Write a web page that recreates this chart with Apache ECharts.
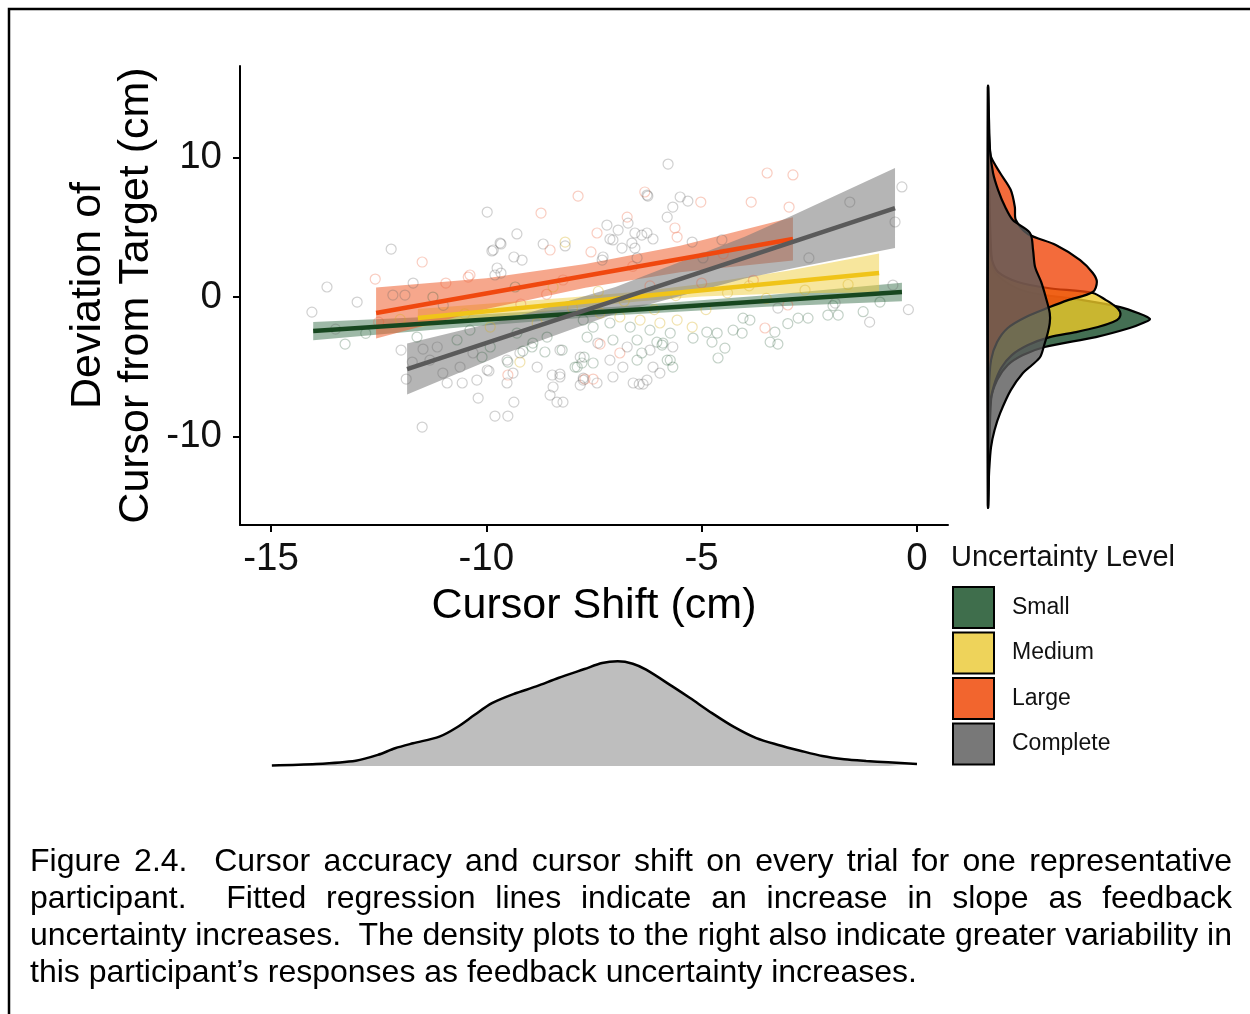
<!DOCTYPE html>
<html>
<head>
<meta charset="utf-8">
<script src="https://cdn.jsdelivr.net/npm/echarts@6/dist/echarts.min.js"></script>
<style>
html,body{margin:0;padding:0;background:#fff}
#chart{width:1250px;height:1014px}
</style>
</head>
<body>
<div id="chart"></div>
<script>
// ---------- data ----------
const groups = ['Small', 'Medium', 'Large', 'Complete'];
const xTicks = [-15, -10, -5, 0];
const yTicks = [-10, 0, 10];

// trials: [cursor shift (cm), deviation of cursor from target (cm)]
const smallPts = [
  [-9.50,-4.66],[-7.89,-5.02],[-7.73,-4.30],[-8.24,-3.80],[-8.94,-3.58],[-8.64,-3.94],[-9.15,-3.87],[-10.10,-4.30],[-11.24,0.00],[-9.33,0.72],
  [-2.76,-1.51],[-2.53,-1.51],[-2.07,-1.29],[-1.83,-1.29],[-3.30,-2.51],[-3.41,-3.23],[-3.23,-3.37],[-4.04,-1.51],[-3.88,-1.65],[-4.27,-2.37],
  [-4.06,-2.58],[-4.46,-3.66],[-4.62,-4.37],[-4.76,-3.23],[-4.64,-2.58],[-4.88,-2.51],[-5.20,-2.94],[-5.73,-4.52],[-5.67,-5.02],[-6.04,-3.23],
  [-5.92,-3.44],[-6.39,-4.01],[-7.78,-4.73],[-7.94,-5.02],[-7.75,-1.65],[-7.52,-2.15],[-7.13,-1.86],[-6.66,-2.15],[-6.20,-2.37],[-5.73,-2.58],
  [-7.66,-2.87],[-7.06,-3.08],[-6.50,-3.08],[-5.90,-3.30],[-7.52,-4.73],[-6.50,-4.52],[-5.80,-4.52],[-10.38,-2.37],[-9.29,-2.58],[-8.59,-2.87],
  [-9.91,-3.58],[-8.92,-3.30],[-11.61,-2.87],[-10.68,-3.08],[-1.95,-0.62],[-0.86,-0.36],[-1.25,-1.05],[-13.28,-3.37],[-12.80,-2.60],[-3.00,-1.90]
];
const mediumPts = [
  [-8.17,3.94],[-9.22,-4.66],[-5.22,-2.15],[-7.36,-1.15],[-6.90,-1.43],[-5.97,-1.86],[-6.43,-1.65],[-5.57,-1.65],[-8.82,-1.86],[-9.91,-2.15],
  [-8.45,0.72],[-5.60,0.10],[-4.40,0.30],[-6.80,-0.30],[-3.50,-0.10],[-10.50,-1.20],[-8.00,-0.80],[-7.40,0.40],[-2.60,0.50],[-12.00,-1.60],
  [-4.90,-0.90],[-3.90,0.80],[-1.60,0.90],[-6.10,-0.90]
];
const largePts = [
  [-7.87,7.24],[-8.73,6.02],[-8.52,3.37],[-11.49,2.51],[-12.58,1.29],[-9.50,-5.59],[-10.38,1.58],[-10.94,1.00],[-3.48,8.89],[-2.88,8.75],
  [-3.85,6.81],[-2.97,6.45],[-5.02,6.81],[-6.32,7.53],[-6.73,5.73],[-7.43,4.59],[-5.62,4.95],[-5.57,4.30],[-7.57,3.23],[-3.00,-0.57],
  [-3.53,-2.22],[-7.52,-5.88],[-7.71,-5.88],[-6.90,-4.01],[-7.36,-3.37],[-8.22,1.22],[-6.20,0.80],[-5.00,1.00],[-3.80,1.20],[-9.20,-0.50],
  [-8.60,0.20],[-12.50,-1.80],[-10.42,1.43],[-4.50,3.10],[-6.60,2.20]
];
const completePts = [
  [-9.98,6.09],[-9.29,4.52],[-9.87,3.30],[-9.66,3.80],[-8.68,3.80],[-8.17,3.66],[-12.21,3.44],[-9.36,2.87],[-9.17,2.65],[-13.70,0.72],
  [-13.00,-0.36],[-14.05,-1.08],[-11.98,-3.80],[-11.72,-4.66],[-11.86,-5.88],[-11.47,-3.73],[-11.01,-5.45],[-10.56,-6.16],[-10.19,-7.24],[-9.94,-5.30],
  [-9.36,-7.53],[-9.80,-8.53],[-9.50,-8.53],[-11.49,-9.32],[-8.52,-7.03],[-8.36,-7.53],[-8.47,-5.59],[-8.29,-5.52],[-7.82,-6.31],[-7.75,-5.81],
  [-11.70,1.00],[-11.89,0.14],[-12.17,0.14],[-9.80,1.58],[-9.66,1.72],[-5.78,9.53],[-0.35,7.89],[-1.56,6.81],[-0.51,5.38],[-5.32,6.88],
  [-5.50,7.17],[-5.67,6.45],[-6.25,7.24],[-5.80,5.73],[-6.71,5.30],[-7.20,5.16],[-6.94,4.80],[-6.55,4.59],[-6.39,4.44],[-6.27,4.59],
  [-6.13,4.16],[-7.13,4.16],[-7.06,4.09],[-6.85,3.51],[-6.62,3.87],[-6.55,3.51],[-7.29,2.87],[-7.31,2.65],[-5.22,3.94],[-4.97,2.80],
  [-4.53,4.09],[-6.50,2.80],[-2.51,2.80],[-0.56,0.86],[-1.90,-0.43],[-3.23,-0.79],[-6.45,-6.24],[-6.36,-6.24],[-8.22,-7.53],[-6.27,7.31],
  [-9.68,3.87],[-9.84,3.37],[-9.75,2.08],[-6.20,-3.80],[-5.67,-3.58],[-7.41,-3.30],[-6.73,-3.58],[-7.82,-4.30],[-7.13,-4.52],[-6.83,-5.02],
  [-6.13,-5.02],[-7.75,-5.95],[-7.43,-6.16],[-7.06,-5.73],[-6.59,-6.16],[-6.27,-5.95],[-5.97,-5.45],[-11.14,-3.58],[-10.31,-4.01],[-9.52,-4.52],
  [-9.22,-4.01],[-8.29,-3.80],[-11.31,-4.52],[-10.61,-5.02],[-9.98,-5.23],[-9.38,-5.45],[-8.82,-5.02],[-8.29,-5.73],[-10.91,-6.16],[-10.22,-5.95],
  [-9.52,-6.16],[-8.45,-6.45],[-13.50,-2.30],[-11.00,-0.60],[-0.20,-0.90],[-1.10,-1.80]
];

// fitted regression lines: [[x start, y start], [x end, y end]]
const smallFit    = [[-14.02,-2.44],[-0.35,0.36]];
const mediumFit   = [[-11.59,-1.50],[-0.88,1.72]];
const largeFit    = [[-12.56,-1.15],[-2.88,4.16]];
const completeFit = [[-11.84,-5.16],[-0.51,6.38]];

// 95% confidence bands: [x, lower, upper]
const smallBand = [[-14.02,-3.09,-1.79],[-10.5,-2.14,-1.30],[-7.0,-1.30,-0.70],[-3.5,-0.70,0.13],[-0.35,-0.30,1.02]];
const mediumBand = [[-11.59,-2.15,-0.85],[-8.0,-0.82,-0.02],[-6.5,-0.32,0.38],[-5.0,0.03,0.93],[-3.0,0.28,1.88],[-0.88,0.32,3.12]];
const largeBand = [[-12.56,-2.98,0.68],[-10.0,-0.85,1.35],[-7.7,0.67,2.37],[-5.5,1.77,3.67],[-2.88,2.61,5.71]];
const completeBand = [[-11.84,-6.99,-3.33],[-9.5,-3.98,-1.58],[-7.0,-1.18,0.72],[-4.0,1.32,4.32],[-2.88,2.07,5.87],[-0.51,3.51,9.25]];

// marginal densities of deviation: [density, deviation (cm)]
const smallDens = [[0,14.98],[0.008,2.29],[0.030,1.22],[0.079,0.36],[0.187,-0.22],[0.261,-0.72],[0.296,-1.15],[0.320,-1.58],[0.306,-1.86],
  [0.280,-2.22],[0.213,-2.87],[0.112,-3.58],[0.069,-4.16],[0.039,-4.87],[0.018,-5.95],[0.006,-7.38],[0,-14.91]];
const mediumDens = [[0,14.98],[0.002,4.09],[0.008,2.65],[0.020,1.79],[0.059,1.08],[0.118,0.65],[0.207,0.29],[0.233,-0.22],[0.251,-0.65],
  [0.261,-1.08],[0.259,-1.51],[0.247,-1.79],[0.217,-2.15],[0.174,-2.51],[0.122,-2.87],[0.079,-3.44],[0.047,-4.16],[0.026,-5.09],
  [0.012,-6.31],[0.004,-7.74],[0,-14.91]];
const largeDens = [[0,14.98],[0.001,12.69],[0.003,10.90],[0.006,10.04],[0.024,8.89],[0.045,7.67],[0.053,6.45],[0.055,5.52],[0.079,4.52],
  [0.134,3.73],[0.182,2.65],[0.207,1.72],[0.215,1.08],[0.207,0.36],[0.158,-0.22],[0.122,-0.72],[0.075,-1.43],[0.039,-2.22],[0.018,-3.23],
  [0.006,-4.52],[0.002,-6.67],[0,-14.91]];
const completeDens = [[0,14.98],[0.002,12.69],[0.004,10.54],[0.010,8.89],[0.020,7.67],[0.034,6.45],[0.049,5.52],[0.083,4.59],[0.089,3.37],
  [0.093,2.15],[0.105,1.08],[0.114,0.00],[0.122,-1.15],[0.122,-1.86],[0.118,-2.58],[0.111,-3.44],[0.103,-4.30],[0.087,-4.87],[0.069,-5.45],
  [0.045,-6.67],[0.024,-8.32],[0.013,-9.53],[0.006,-10.75],[0.0024,-12.40],[0.001,-13.84],[0,-14.91]];

// marginal density of cursor shift: [cursor shift (cm), density]
const shiftDens = [[-14.98,0.0005],[-13.95,0.0018],[-13.03,0.0048],[-12.52,0.0100],[-12.12,0.0160],[-11.70,0.0205],[-11.09,0.0265],[-10.68,0.0350],
  [-10.27,0.0462],[-9.87,0.0567],[-9.35,0.0652],[-8.84,0.0718],[-8.33,0.0794],[-7.72,0.0875],[-7.31,0.0929],[-6.95,0.0944],[-6.60,0.0923],
  [-6.29,0.0869],[-5.68,0.0718],[-5.27,0.0613],[-4.76,0.0477],[-4.24,0.0350],[-3.73,0.0251],[-3.22,0.0190],[-2.71,0.0138],[-2.20,0.0090],
  [-1.69,0.0061],[-1.18,0.0045],[-0.67,0.0033],[0.00,0.0018]];

const captionLines = [
  'Figure 2.4.  Cursor accuracy and cursor shift on every trial for one representative',
  'participant.  Fitted regression lines indicate an increase in slope as feedback',
  'uncertainty increases.  The density plots to the right also indicate greater variability in',
  'this participant\u2019s responses as feedback uncertainty increases.'
];

// ---------- styling ----------
const FONT = '"Liberation Sans", Arial, Helvetica, sans-serif';
const palette = {
  Small:    { line: '#17471f', band: 'rgba(40,100,60,0.45)',  point: 'rgba(40,90,55,0.28)',   fill: 'rgba(15,70,35,0.78)',  key: '#3f6e4c' },
  Medium:   { line: '#f0c419', band: 'rgba(240,205,60,0.5)',  point: 'rgba(215,175,30,0.35)', fill: 'rgba(235,200,40,0.8)', key: '#eed35a' },
  Large:    { line: '#f0480f', band: 'rgba(238,95,45,0.55)',  point: 'rgba(235,90,50,0.3)',   fill: 'rgba(240,70,10,0.8)',  key: '#f2652e' },
  Complete: { line: '#5a5a5a', band: 'rgba(120,120,120,0.55)',point: 'rgba(100,100,100,0.3)', fill: 'rgba(90,90,90,0.8)',   key: '#787878' }
};
const ptsBy  = { Small: smallPts, Medium: mediumPts, Large: largePts, Complete: completePts };
const fitBy  = { Small: smallFit, Medium: mediumFit, Large: largeFit, Complete: completeFit };
const bandBy = { Small: smallBand, Medium: mediumBand, Large: largeBand, Complete: completeBand };
const densBy = { Small: smallDens, Medium: mediumDens, Large: largeDens, Complete: completeDens };

const X_MIN = -15.72, X_MAX = 0.72, Y_MIN = -16.34, Y_MAX = 16.56;

// ---------- series ----------
const series = [];
groups.forEach(g => {
  series.push({
    type: 'scatter', name: g, xAxisIndex: 0, yAxisIndex: 0, data: ptsBy[g],
    symbol: 'circle', symbolSize: 10, silent: true,
    itemStyle: { color: 'transparent', borderColor: palette[g].point, borderWidth: 1.2, opacity: 1 }
  });
});
groups.forEach(g => {
  const band = bandBy[g];
  series.push({
    type: 'custom', name: g + ' band', xAxisIndex: 0, yAxisIndex: 0, data: band, silent: true,
    encode: { x: 0, y: [1, 2] },
    renderItem: (params, api) => {
      if (params.dataIndex !== 0) return null;
      const upper = band.map(d => api.coord([d[0], d[2]]));
      const lower = band.map(d => api.coord([d[0], d[1]])).reverse();
      return { type: 'polygon', shape: { points: upper.concat(lower) }, style: { fill: palette[g].band } };
    }
  });
  series.push({
    type: 'line', name: g + ' fit', xAxisIndex: 0, yAxisIndex: 0, data: fitBy[g], silent: true,
    symbol: 'none', showSymbol: false,
    lineStyle: { width: 4.5, color: palette[g].line }
  });
});
groups.forEach(g => {
  const dens = densBy[g];
  series.push({
    type: 'custom', name: g + ' density', xAxisIndex: 1, yAxisIndex: 1, data: dens, silent: true,
    renderItem: (params, api) => {
      if (params.dataIndex !== 0) return null;
      const pts = dens.map(d => api.coord(d));
      return { type: 'polygon', shape: { points: pts, smooth: 0.3 },
               style: { fill: palette[g].fill, stroke: '#000', lineWidth: 2.2 } };
    }
  });
});
series.push({
  type: 'line', name: 'shift density', xAxisIndex: 2, yAxisIndex: 2, data: shiftDens, silent: true,
  symbol: 'none', showSymbol: false, smooth: 0.3,
  lineStyle: { width: 2.5, color: '#000' },
  areaStyle: { color: '#bebebe', opacity: 1 }
});

// ---------- caption (justified) ----------
const CAP_SIZE = 32, CAP_LEFT = 30, CAP_RIGHT = 1232;
const measureCtx = document.createElement('canvas').getContext('2d');
measureCtx.font = CAP_SIZE + 'px ' + FONT;
const captionGraphics = [];
captionLines.forEach((line, i) => {
  const y = 862 + i * 37;
  const words = line.split(' ');
  const widths = words.map(w => measureCtx.measureText(w).width);
  const justify = i < captionLines.length - 1;
  const space = measureCtx.measureText(' ').width;
  const total = widths.reduce((a, b) => a + b, 0);
  const gap = justify ? (CAP_RIGHT - CAP_LEFT - total) / (words.length - 1) : space;
  let x = CAP_LEFT;
  words.forEach((w, k) => {
    if (w) {
      captionGraphics.push({
        type: 'text', x: x, y: y, silent: true,
        style: { text: w, fontSize: CAP_SIZE, fontFamily: FONT, fill: '#000', verticalAlign: 'middle' }
      });
    }
    x += widths[k] + gap;
  });
});

// ---------- option ----------
const axisText = { fontSize: 38.5, fontFamily: FONT, color: '#111' };
const option = {
  animation: false,
  backgroundColor: '#fff',
  grid: [
    { left: 240, top: 66, width: 708, height: 459, outerBoundsMode: 'none', containLabel: false },
    { left: 988, top: 66, width: 200, height: 459, outerBoundsMode: 'none', containLabel: false },
    { left: 240, top: 633, width: 708, height: 133, outerBoundsMode: 'none', containLabel: false }
  ],
  xAxis: [
    {
      gridIndex: 0, type: 'value', min: X_MIN, max: X_MAX,
      axisLine: { onZero: false, lineStyle: { color: '#000', width: 2 } },
      axisTick: { show: true, length: 7, lineStyle: { color: '#000', width: 2 }, customValues: xTicks },
      axisLabel: Object.assign({ margin: 15, customValues: xTicks }, axisText),
      splitLine: { show: false },
      name: 'Cursor Shift (cm)', nameLocation: 'middle', nameGap: 60, nameMoveOverlap: false,
      nameTextStyle: { fontSize: 43, fontFamily: FONT, color: '#000' }
    },
    { gridIndex: 1, type: 'value', min: 0, max: 0.395, show: false },
    { gridIndex: 2, type: 'value', min: X_MIN, max: X_MAX, show: false }
  ],
  yAxis: [
    {
      gridIndex: 0, type: 'value', min: Y_MIN, max: Y_MAX,
      axisLine: { onZero: false, lineStyle: { color: '#000', width: 2 } },
      axisTick: { show: true, length: 7, lineStyle: { color: '#000', width: 2 }, customValues: yTicks },
      axisLabel: Object.assign({ margin: 18, customValues: yTicks, padding: [7, 0, 0, 0] }, axisText),
      splitLine: { show: false },
      name: 'Deviation of\nCursor from Target (cm)', nameLocation: 'middle', nameRotate: 90,
      nameGap: 80, nameMoveOverlap: false,
      nameTextStyle: { fontSize: 43, lineHeight: 48, fontFamily: FONT, color: '#000', align: 'center' }
    },
    { gridIndex: 1, type: 'value', min: Y_MIN, max: Y_MAX, show: false },
    { gridIndex: 2, type: 'value', min: 0, max: 0.12, show: false }
  ],
  legend: {
    data: groups.map(g => ({ name: g, itemStyle: { color: palette[g].key, borderColor: '#000', borderWidth: 2, opacity: 1 } })),
    orient: 'vertical', left: 952, top: 586, padding: 0,
    icon: 'rect', itemWidth: 41, itemHeight: 41, itemGap: 2.5,
    selectedMode: false,
    textStyle: { fontSize: 23, fontFamily: FONT, color: '#111', padding: [10, 0, 0, 13] }
  },
  graphic: [
    { type: 'rect', silent: true, shape: { x: 9, y: 9, width: 1260, height: 1030 },
      style: { fill: 'none', stroke: '#000', lineWidth: 2.5 } },
    { type: 'text', x: 951, y: 558, silent: true,
      style: { text: 'Uncertainty Level', fontSize: 29, fontFamily: FONT, fill: '#111', verticalAlign: 'middle' } }
  ].concat(captionGraphics),
  series: series
};

const chart = echarts.init(document.getElementById('chart'), null, { renderer: 'canvas' });
chart.setOption(option);
</script>
</body>
</html>
